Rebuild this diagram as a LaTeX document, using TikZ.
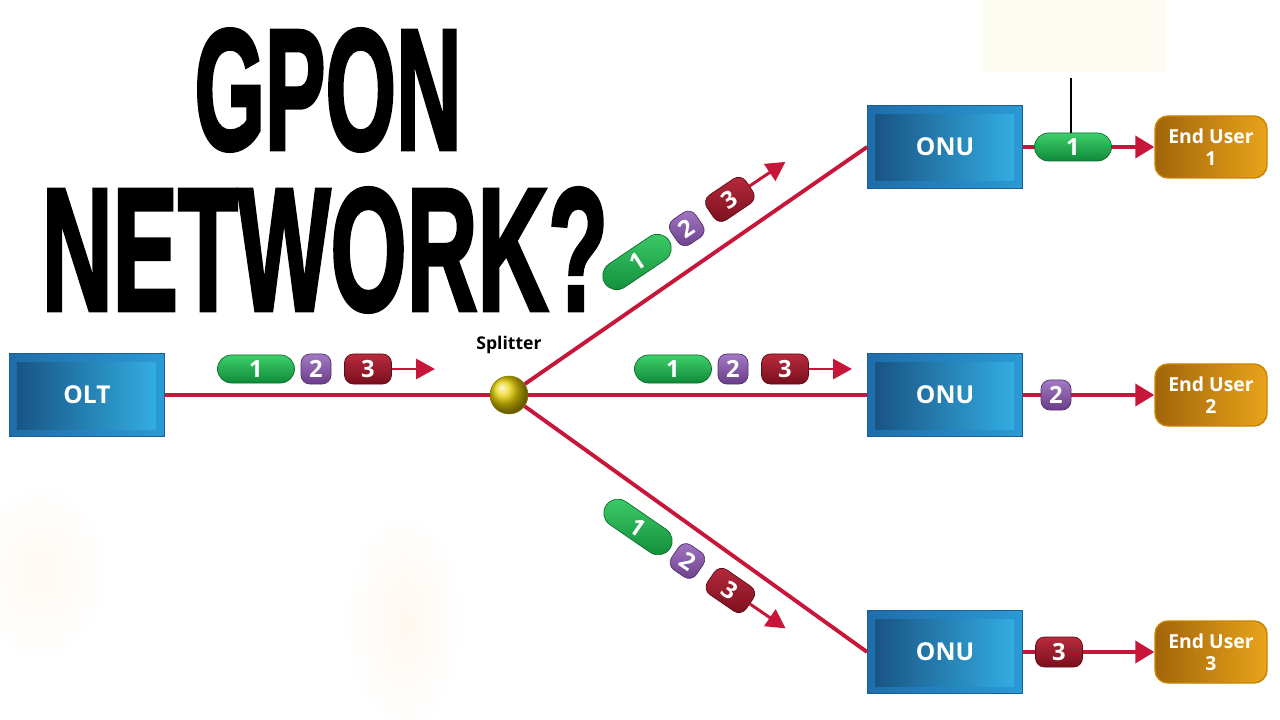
\documentclass[tikz,border=0pt]{standalone}
\usepackage{fontspec}
\setmainfont{Open Sans}
\newfontfamily\titlefont{Liberation Sans}[BoldFeatures={FakeBold=2.5}]
\usetikzlibrary{arrows.meta, positioning, shapes.geometric}

\definecolor{fibrered}{HTML}{C8153A}
\definecolor{unitedge}{HTML}{1C5F96}
\definecolor{unitouterL}{HTML}{1F6DAA}
\definecolor{unitouterR}{HTML}{2A9AD5}
\definecolor{unitinnerL}{HTML}{17507F}
\definecolor{unitinnerR}{HTML}{34B2E7}
\definecolor{userEdge}{HTML}{C98400}
\definecolor{userL}{HTML}{A1650A}
\definecolor{userR}{HTML}{E9A31A}
\definecolor{greenT}{HTML}{3FCF6B}
\definecolor{greenB}{HTML}{0F8A38}
\definecolor{greenE}{HTML}{0C6E2D}
\definecolor{purpleT}{HTML}{A57AC4}
\definecolor{purpleB}{HTML}{6A3D8A}
\definecolor{purpleE}{HTML}{55306F}
\definecolor{redT}{HTML}{B82B3E}
\definecolor{redB}{HTML}{7A0E1C}
\definecolor{redE}{HTML}{600A15}
\definecolor{ballyellow}{HTML}{E6CF00}
\definecolor{ballEdge}{HTML}{8A7600}
\definecolor{cream}{HTML}{FDFCF3}

% one row of packets 1-2-3 with its arrow: prefix, x, y, angle
\newcommand{\pktrow}[4]{%
	\begin{scope}[shift={(#2,#3)}, rotate=#4, transform shape]
		\node[pktg] (#1g) at (0,0) {1};
		\node[pktp] (#1p) at (60,0) {2};
		\node[pktr] (#1r) at (112,0) {3};
		\coordinate (#1e) at (179,0);
		\draw[flow] (#1r) -- (#1e);
	\end{scope}}

\begin{document}
\begin{tikzpicture}[
		x=0.2mm, y=-0.2mm,
		unitbox/.style={rectangle, draw=unitedge, line width=0.5pt, minimum width=31mm, minimum height=16.6mm,
			left color=unitouterL, right color=unitouterR, text=white, font=\bfseries\fontsize{14}{16}\selectfont,
			path picture={\shade[left color=unitinnerL, right color=unitinnerR]
				([shift={(1.5mm,-1.8mm)}]path picture bounding box.north west) rectangle
				([shift={(-1.8mm,1.5mm)}]path picture bounding box.south east);}},
		enduser/.style={rectangle, rounded corners=2.6mm, draw=userEdge, line width=0.8pt, minimum width=22.4mm,
			minimum height=12.4mm, left color=userL, right color=userR, text=white, align=center,
			font=\bfseries\fontsize{11}{12.5}\selectfont},
		pkt/.style={rectangle, rounded corners=1.8mm, minimum height=6mm, minimum width=6mm, inner sep=0pt,
			line width=0.4pt, text=white, font=\bfseries\fontsize{13.5}{13.5}\selectfont},
		pktg/.style={pkt, rounded corners=2.8mm, minimum width=15.4mm, minimum height=5.6mm,
			top color=greenT, bottom color=greenB, draw=greenE},
		pktp/.style={pkt, top color=purpleT, bottom color=purpleB, draw=purpleE},
		pktr/.style={pkt, minimum width=9.4mm, top color=redT, bottom color=redB, draw=redE},
		fiber/.style={draw=fibrered, line width=2.2pt},
		flow/.style={draw=fibrered, line width=1.7pt, -{Triangle[length=3.8mm, width=4mm]}},
		feed/.style={fiber, -{Triangle[length=3.8mm, width=4.4mm]}},
		splitball/.style={circle, minimum size=7.6mm, inner sep=0pt, shading=ball, ball color=ballyellow,
			draw=ballEdge, line width=0.3pt},
		title/.style={inner sep=0pt, text=black}
	]
	% canvas
	\useasboundingbox (0,0) rectangle (1280,720);
	\fill[white] (0,0) rectangle (1280,720);
	\shade[inner color=orange!6, outer color=white] (404,621) ellipse [x radius=12mm, y radius=22mm];
	\shade[inner color=orange!5, outer color=white] (40,572) ellipse [x radius=14mm, y radius=18mm];
	\fill[cream] (980,0) rectangle (1167,72);

	% title
	\node[title] (gpon) at (328,90) {\titlefont\bfseries\resizebox{53.4mm}{24mm}{GPON}};
	\node[title] (net) at (325,250) {\titlefont\bfseries\resizebox{113.2mm}{24.4mm}{NETWORK?}};

	% units
	\node[unitbox] (olt) at (87,395) {OLT};
	\node[splitball] (spl) at (509,395) {};
	\node[font=\bfseries\fontsize{10}{12}\selectfont, above=3.2mm of spl] (spltxt) {Splitter};
	\node[unitbox] (onu1) at (945,147) {ONU};
	\node[unitbox] (onu2) at (945,395) {ONU};
	\node[unitbox] (onu3) at (945,652) {ONU};
	\node[enduser] (eu1) at (1211,147) {End User\\1};
	\node[enduser] (eu2) at (1211,395) {End User\\2};
	\node[enduser] (eu3) at (1211,652) {End User\\3};

	% fibres
	\draw[fiber] (olt) -- (spl);
	\draw[fiber] (spl) -- (onu1.west);
	\draw[fiber] (spl) -- (onu2);
	\draw[fiber] (spl) -- (onu3.west);
	\draw[feed] (onu1) -- (eu1);
	\draw[feed] (onu2) -- (eu2);
	\draw[feed] (onu3) -- (eu3);

	% packets
	\pktrow{a}{256}{369}{0}
	\pktrow{b}{673}{369}{0}
	\pktrow{c}{637}{262}{34}
	\pktrow{d}{638}{527}{-34.5}
	\node[pktg] (q1) at (1073,147) {1};
	\node[pktp] (q2) at (1056,395) {2};
	\node[pktr] (q3) at (1059,652) {3};

	% stray mark above packet 1
	\coordinate (tick) at (1071,78);
	\draw[black, line width=0.45mm] (tick) -- (q1.north -| tick) ++(0,-6);
\end{tikzpicture}
\end{document}
